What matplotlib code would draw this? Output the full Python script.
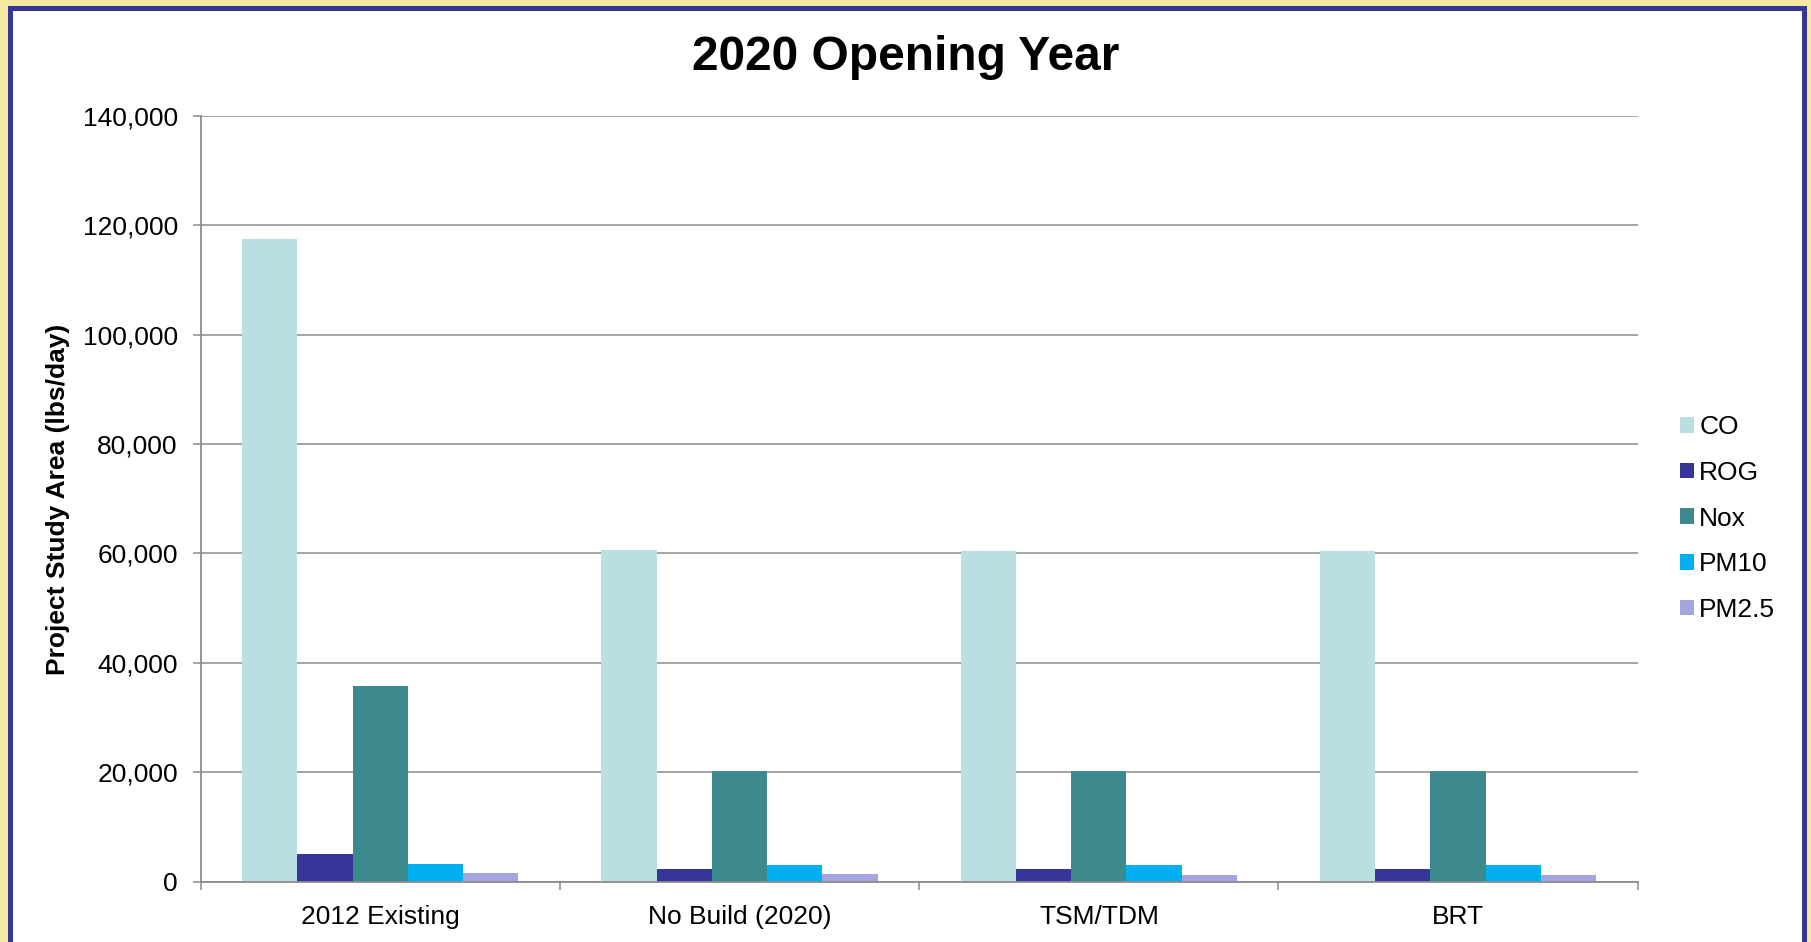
import matplotlib
matplotlib.use("Agg")
import matplotlib.pyplot as plt
import numpy as np
from matplotlib.patches import Rectangle
from matplotlib.ticker import FuncFormatter, FixedLocator

plt.rcParams["font.family"] = ["Liberation Sans", "DejaVu Sans"]

# Daily emissions by scenario (lbs/day)
scenarios = ["2012 Existing", "No Build (2020)", "TSM/TDM", "BRT"]
pollutants = ["CO", "ROG", "Nox", "PM10", "PM2.5"]
co = [117500, 60600, 60500, 60450]
rog = [5050, 2320, 2320, 2320]
nox = [35800, 20230, 20180, 20180]
pm10 = [3230, 3050, 3000, 3000]
pm25 = [1650, 1400, 1300, 1300]

series = [co, rog, nox, pm10, pm25]
colors = ["#B9DFE2", "#35359A", "#3C8A8E", "#00B0F0", "#A4A4DF"]

GRID = "#8C8C8C"

fig = plt.figure(figsize=(18.11, 9.42), dpi=100)
fig.patch.set_facecolor("#F6E7A1")

# white panel with blue frame (bottom edge runs off the canvas)
W, H = 1811, 942
frame = Rectangle((10 / W, -0.05), (1803.5 - 10) / W, 1.05 - 7.5 / H,
                  transform=fig.transFigure, facecolor="white",
                  edgecolor="#35359A", linewidth=3.6, zorder=-5)
fig.patches.append(frame)

ax = fig.add_axes([200.7 / W, 1 - 881.7 / H, (1637.7 - 200.7) / W,
                   (881.7 - 115.7) / H])
ax.set_facecolor("none")
ax.set_zorder(2)

n = len(series)
width = 1.0 / 6.5
x = np.arange(len(scenarios)) + 0.5
for i, (vals, c, name) in enumerate(zip(series, colors, pollutants)):
    offs = (i - (n - 1) / 2) * width
    ax.bar(x + offs, vals, width=width, color=c, label=name, zorder=3,
           linewidth=0)

ax.set_xlim(0, len(scenarios))
ax.set_ylim(0, 140000)
ax.set_yticks(np.arange(0, 140001, 20000))
ax.yaxis.set_major_formatter(FuncFormatter(lambda v, p: f"{int(v):,}"))
ax.grid(axis="y", color=GRID, linewidth=1.1, zorder=1)

# category boundaries as ticks, names centred between them
ax.xaxis.set_major_locator(FixedLocator(np.arange(len(scenarios) + 1)))
ax.xaxis.set_minor_locator(FixedLocator(x))
ax.set_xticklabels([], minor=False)
ax.set_xticklabels(scenarios, minor=True)
ax.tick_params(axis="x", which="major", direction="out", length=6,
               width=1.1, color=GRID)
ax.tick_params(axis="x", which="minor", length=0, pad=16.5, labelsize=19)
ax.tick_params(axis="y", direction="out", length=5.5, width=1.1, color=GRID,
               pad=11, labelsize=19)

for s in ["top", "right"]:
    ax.spines[s].set_visible(False)
for s in ["left", "bottom"]:
    ax.spines[s].set_color(GRID)
    ax.spines[s].set_linewidth(1.3)
    ax.spines[s].set_zorder(4)

fig.text(0.5, 1 - 58 / H, "2020 Opening Year",
         ha="center", va="center", fontsize=34.5, fontweight="bold")
fig.text(57.8 / W, 1 - 499.5 / H, "Project Study Area (lbs/day)",
         rotation=90, ha="center", va="center", fontsize=19,
         fontweight="bold")

fig.legend(loc="center left", bbox_to_anchor=(1680 / W, 1 - 518.5 / H),
           frameon=False, fontsize=19, handlelength=0.53, handleheight=0.53,
           handletextpad=0.2, labelspacing=0.82, borderpad=0,
           borderaxespad=0)

fig.savefig("out.png", dpi=100, facecolor=fig.get_facecolor())
